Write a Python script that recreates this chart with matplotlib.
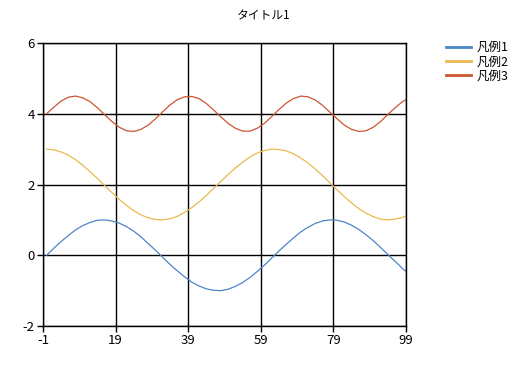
import matplotlib
matplotlib.use("Agg")
import matplotlib.pyplot as plt

plt.rcParams['font.family'] = ['Noto Sans CJK JP', 'DejaVu Sans']
plt.rcParams['axes.unicode_minus'] = False

title = "タイトル1"
names = ["凡例1", "凡例2", "凡例3"]
colors = ["#4a86c8", "#eab94f", "#cc5630"]

x = list(range(0, 100, 2)) + [99]

s1 = [0.00, 0.20, 0.39, 0.56, 0.72, 0.84, 0.93, 0.99, 1.00, 0.97,
      0.91, 0.81, 0.68, 0.52, 0.33, 0.14, -0.06, -0.26, -0.44, -0.61,
      -0.76, -0.87, -0.95, -0.99, -1.00, -0.96, -0.88, -0.77, -0.63, -0.46,
      -0.28, -0.08, 0.12, 0.31, 0.49, 0.66, 0.79, 0.90, 0.97, 1.00,
      0.99, 0.94, 0.85, 0.73, 0.58, 0.41, 0.22, 0.02, -0.17, -0.37,
      -0.46]
s2 = [3.00, 2.98, 2.92, 2.83, 2.70, 2.54, 2.36, 2.17, 1.97, 1.77,
      1.58, 1.41, 1.26, 1.14, 1.06, 1.01, 1.00, 1.03, 1.10, 1.21,
      1.35, 1.51, 1.69, 1.89, 2.09, 2.28, 2.47, 2.63, 2.78, 2.89,
      2.96, 3.00, 2.99, 2.95, 2.87, 2.75, 2.61, 2.44, 2.25, 2.05,
      1.85, 1.66, 1.48, 1.32, 1.19, 1.09, 1.02, 1.00, 1.02, 1.07,
      1.11]
s3 = [4.00, 4.19, 4.36, 4.47, 4.50, 4.45, 4.34, 4.17, 3.97, 3.78,
      3.62, 3.52, 3.50, 3.56, 3.68, 3.86, 4.06, 4.25, 4.40, 4.48,
      4.49, 4.43, 4.29, 4.11, 3.91, 3.73, 3.59, 3.51, 3.51, 3.59,
      3.73, 3.92, 4.12, 4.30, 4.43, 4.50, 4.48, 4.39, 4.24, 4.05,
      3.86, 3.68, 3.56, 3.50, 3.52, 3.62, 3.78, 3.98, 4.17, 4.34,
      4.40]

xticks = [-1, 19, 39, 59, 79, 99]
yticks = [-2, 0, 2, 4, 6]

fig = plt.figure(figsize=(5.27, 3.65), dpi=100)
ax = fig.add_axes([0.0816, 0.1068, 0.6888, 0.7753])

for ys, name, c in zip([s1, s2, s3], names, colors):
    ax.plot(x, ys, color=c, lw=0.9, label=name)

ax.set_xlim(-1, 99)
ax.set_ylim(-2, 6)
ax.set_xticks(xticks)
ax.set_yticks(yticks)
ax.grid(True, color="black", lw=1)
ax.set_axisbelow(True)
for sp in ax.spines.values():
    sp.set_color("black")
    sp.set_linewidth(1)
ax.tick_params(length=4, width=1, labelsize=9.5, pad=2)

fig.text(0.5, 0.955, title, ha="center", va="center", fontsize=8.5)

leg = fig.legend(loc="upper left", bbox_to_anchor=(0.835, 0.905), frameon=False,
                 fontsize=9, handlelength=2.0, handletextpad=0.4,
                 labelspacing=0.1, borderpad=0)
for ln in leg.get_lines():
    ln.set_linewidth(2)

fig.savefig("out.png", dpi=100)
